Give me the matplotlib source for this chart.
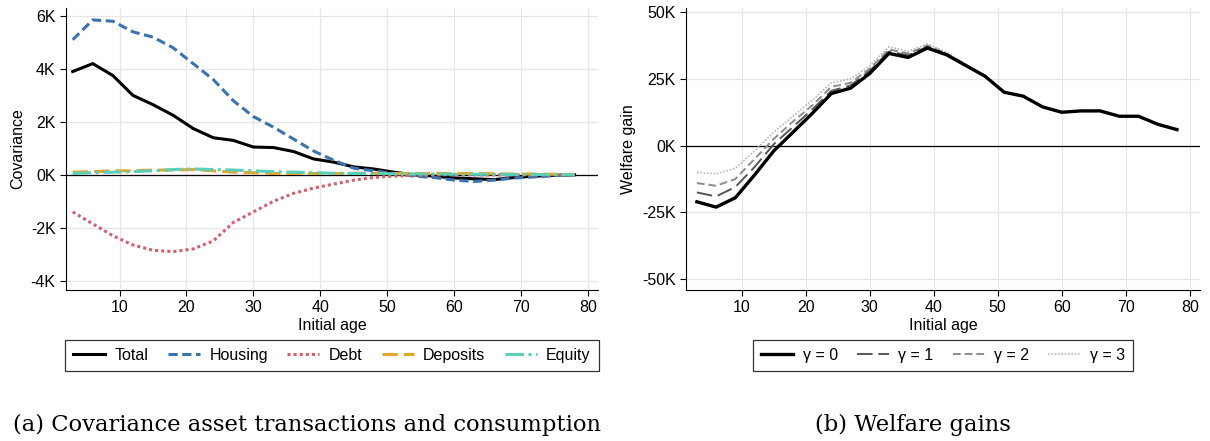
import numpy as np
import matplotlib.pyplot as plt
from matplotlib.ticker import FuncFormatter

plt.rcParams['font.family'] = ['Liberation Sans', 'DejaVu Sans']

# initial age grid
ages = [3, 6, 9, 12, 15, 18, 21, 24, 27, 30, 33, 36, 39, 42, 45, 48, 51, 54,
        57, 60, 63, 66, 69, 72, 75, 78]

# covariance components (in thousands)
total = [3.9, 4.2, 3.75, 3.0, 2.65, 2.25, 1.75, 1.4, 1.3, 1.05, 1.03, 0.88,
         0.6, 0.48, 0.3, 0.22, 0.1, 0.0, -0.05, -0.12, -0.15, -0.18, -0.1,
         -0.05, -0.02, 0.0]
housing = [5.1, 5.85, 5.8, 5.4, 5.2, 4.8, 4.2, 3.6, 2.8, 2.2, 1.8, 1.35, 0.9,
           0.55, 0.25, 0.15, 0.05, -0.05, -0.1, -0.2, -0.25, -0.2, -0.12,
           -0.08, -0.03, 0.0]
debt = [-1.4, -1.85, -2.3, -2.65, -2.85, -2.9, -2.8, -2.5, -1.8, -1.4, -1.0,
        -0.7, -0.5, -0.35, -0.2, -0.1, -0.05, -0.02, 0.0, 0.0, 0.0, 0.0, 0.0,
        0.0, 0.0, 0.0]
deposits = [0.1, 0.12, 0.15, 0.15, 0.18, 0.18, 0.2, 0.15, 0.1, 0.08, 0.05,
            0.05, 0.05, 0.05, 0.06, 0.06, 0.05, 0.05, 0.05, 0.05, 0.05, 0.04,
            0.03, 0.03, 0.02, 0.02]
equity = [0.05, 0.08, 0.1, 0.12, 0.15, 0.2, 0.22, 0.2, 0.18, 0.15, 0.12, 0.1,
          0.08, 0.06, 0.05, 0.05, 0.04, 0.03, 0.03, 0.02, 0.02, 0.02, 0.01,
          0.01, 0.01, 0.0]

# welfare gains (in thousands) by gamma
w_g0 = [-21, -23, -19.5, -11, -2, 5, 12, 19.5, 21.5, 27, 34.5, 33, 36.5, 34,
        30, 26, 20, 18.5, 14.5, 12.5, 13, 13, 11, 11, 8, 6]
w_g1 = [-17.5, -19, -15.5, -8, 0.5, 7, 13.5, 20.5, 22.5, 28, 35.2, 33.8, 37,
        34.2, 30, 26, 20, 18.5, 14.5, 12.5, 13, 13, 11, 11, 8, 6]
w_g2 = [-14, -15, -12.5, -5, 2.5, 9, 15, 22, 23.5, 28.8, 36, 34.5, 37.5,
        34.5, 30.2, 26, 20, 18.5, 14.5, 12.5, 13, 13, 11, 11, 8, 6]
w_g3 = [-10, -10.5, -8.5, -2, 5, 11, 17, 23.5, 25, 29.8, 37, 35.3, 38, 35,
        30.5, 26.2, 20, 18.5, 14.5, 12.5, 13, 13, 11, 11, 8, 6]

kfmt = FuncFormatter(lambda v, p: '%dK' % v)


def style_axis(ax):
    for s in ['top', 'right']:
        ax.spines[s].set_visible(False)
    ax.grid(True, color='#e6e6e6', linewidth=0.9)
    ax.set_axisbelow(True)
    ax.axhline(0, color='black', linewidth=0.9, zorder=1)
    ax.tick_params(labelsize=11.5, length=4)
    ax.set_xticks(np.arange(10, 81, 10))
    ax.set_xlabel('Initial age', fontsize=11.5, labelpad=2)
    ax.yaxis.set_major_formatter(kfmt)


def add_legend(ax, h, l, ncol):
    leg = ax.legend(h, l, loc='upper center', bbox_to_anchor=(0.5, -0.177),
                    borderaxespad=0, ncol=ncol, frameon=True, fancybox=False,
                    edgecolor='black', fontsize=11.5, handlelength=2.0,
                    columnspacing=1.2, handletextpad=0.6, borderpad=0.5)
    leg.get_frame().set_linewidth(0.9)
    return leg


fig = plt.figure(figsize=(12.1, 4.41), dpi=100)
ax1 = fig.add_axes([66/1210, 1-290/441, (598-66)/1210, (290-8)/441])
ax2 = fig.add_axes([686/1210, 1-290/441, (1200-686)/1210, (290-8)/441])

# panel a
ax1.plot(ages, total, color='black', lw=2.2, label='Total')
ax1.plot(ages, housing, color='#3b73ae', lw=2.2, ls=(0, (3, 1.5)), label='Housing')
ax1.plot(ages, debt, color='#d4606e', lw=2.2, ls=(0, (1, 1)), label='Debt')
ax1.plot(ages, deposits, color='#e1a62a', lw=2.2, ls=(0, (5, 2)), label='Deposits')
ax1.plot(ages, equity, color='#5ccdb9', lw=2.2, ls=(0, (6, 1.5, 1, 1.5)), label='Equity')
style_axis(ax1)
ax1.set_xlim(2, 81.5)
ax1.set_ylim(-4.35, 6.3)
ax1.set_yticks([-4, -2, 0, 2, 4, 6])
ax1.set_ylabel('Covariance', fontsize=11.5, labelpad=4)
h, l = ax1.get_legend_handles_labels()
add_legend(ax1, h, l, 5)

# panel b
ax2.plot(ages, w_g3, color='#b8b8b8', lw=1.2, ls=(0, (1, 1)), label='γ = 3')
ax2.plot(ages, w_g2, color='#8c8c8c', lw=1.4, ls=(0, (4, 2)), label='γ = 2')
ax2.plot(ages, w_g1, color='#555555', lw=1.4, ls=(0, (8, 3)), label='γ = 1')
ax2.plot(ages, w_g0, color='black', lw=2.4, label='γ = 0')
style_axis(ax2)
ax2.set_xlim(1.3, 81.6)
ax2.set_ylim(-54, 51.5)
ax2.set_yticks([-50, -25, 0, 25, 50])
ax2.set_ylabel('Welfare gain', fontsize=11.5, labelpad=4)
h, l = ax2.get_legend_handles_labels()
add_legend(ax2, h[::-1], l[::-1], 4)

# captions
fig.text(307/1210, 1-425/441, '(a) Covariance asset transactions and consumption',
         ha='center', va='center', fontsize=16.3, family='DejaVu Serif')
fig.text(913/1210, 1-425/441, '(b) Welfare gains',
         ha='center', va='center', fontsize=16.3, family='DejaVu Serif')

fig.savefig('out.png', dpi=100)
